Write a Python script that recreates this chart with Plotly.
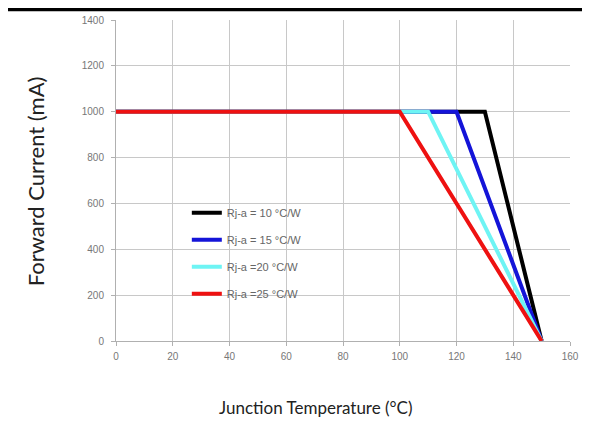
import plotly.graph_objects as go

temps_10 = [0, 130, 150]
temps_15 = [0, 120, 150]
temps_20 = [0, 110, 150]
temps_25 = [0, 100, 150]
current = [1000, 1000, 0]

series = [
    ("Rj-a = 10 °C/W", temps_10, "#000000"),
    ("Rj-a = 15 °C/W", temps_15, "#1414d8"),
    ("Rj-a =20 °C/W", temps_20, "#6ef4f4"),
    ("Rj-a =25 °C/W", temps_25, "#ee1111"),
]

x_ticks = [0, 20, 40, 60, 80, 100, 120, 140, 160]
y_ticks = [0, 200, 400, 600, 800, 1000, 1200, 1400]

fig = go.Figure()
for i, (name, xs, col) in enumerate(series):
    fig.add_trace(go.Scatter(x=xs, y=current, mode="lines", name=name,
                             legendgroup=f"g{i}",
                             line=dict(color=col, width=4)))

tick_font = dict(family="Liberation Sans Narrow, Liberation Sans, Arial", size=10, color="#777777")
xtitle_font = dict(family="Lato, Open Sans, sans-serif", size=17, color="#222222")
ytitle_font = dict(family="Lato, Open Sans, sans-serif", size=22, color="#222222")

fig.update_layout(
    width=574, height=409,
    margin=dict(l=108, r=12, t=12, b=76, autoexpand=False),
    paper_bgcolor="white", plot_bgcolor="white",
    showlegend=True,
    legend=dict(x=0.156, y=0.445, xanchor="left", yanchor="top",
                bgcolor="rgba(0,0,0,0)", tracegroupgap=8,
                font=dict(family="Liberation Sans Narrow, Liberation Sans, Arial", size=11, color="#666666")),
    xaxis=dict(range=[0, 160], tickvals=x_ticks, showgrid=True, gridcolor="#c8c8c8",
               gridwidth=1, zeroline=False, showline=True, linecolor="#b0b0b0",
               ticks="outside", ticklen=4, tickcolor="#b0b0b0", tickfont=tick_font,
               ticklabelstandoff=2, automargin=False),
    yaxis=dict(range=[0, 1400], tickvals=y_ticks, showgrid=True, gridcolor="#c8c8c8",
               gridwidth=1, zeroline=False, showline=True, linecolor="#b0b0b0",
               ticks="outside", ticklen=4, tickcolor="#b0b0b0", tickfont=tick_font,
               ticklabelstandoff=5, automargin=False),
    annotations=[
        dict(text="Junction Temperature (°C)", xref="paper", yref="paper",
             x=0.44, y=-0.206, xanchor="center", yanchor="middle",
             showarrow=False, font=xtitle_font),
        dict(text="Forward Current (mA)", xref="paper", yref="paper",
             x=-0.178, y=0.498, xanchor="center", yanchor="middle", textangle=-90,
             showarrow=False, font=ytitle_font),
    ],
    shapes=[dict(type="rect", xref="paper", yref="paper", x0=-0.3, x1=1.1,
                 y0=1.027, y1=1.04, fillcolor="black", line=dict(width=0), layer="above")],
)

fig.write_html("out.html")
